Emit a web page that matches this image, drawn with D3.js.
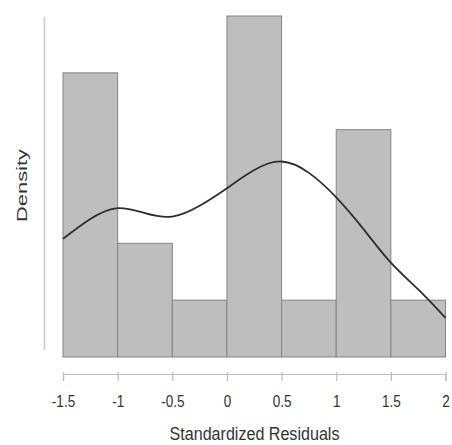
<!DOCTYPE html>
<html>
<head>
<meta charset="utf-8">
<script src="https://cdn.jsdelivr.net/npm/d3@7"></script>
<style>
  html, body { margin: 0; padding: 0; background: #fff; }
  svg { display: block; }
</style>
</head>
<body>
<svg id="chart" width="452" height="445"></svg>
<script>
// Histogram bins (standardized residuals) and their densities
const binEdges = [-1.5, -1, -0.5, 0, 0.5, 1, 1.5, 2];
const densities = [0.5, 0.2, 0.1, 0.6, 0.1, 0.4, 0.1];

// Kernel density curve
const curveX = [-1.5, -1.25, -1.0, -0.75, -0.5, -0.25, 0, 0.25, 0.5, 0.75, 1.0, 1.25, 1.5, 1.75, 2.0];
const curveY = [0.208, 0.243, 0.262, 0.253, 0.247, 0.266, 0.297, 0.329, 0.344, 0.324, 0.281, 0.225, 0.166, 0.119, 0.069];

// Axis ticks
const xTicks = [-1.5, -1, -0.5, 0, 0.5, 1, 1.5, 2];
const xTickLabels = ["-1.5", "-1", "-0.5", "0", "0.5", "1", "1.5", "2"];
const xTitle = "Standardized Residuals";
const yTitle = "Density";

const svg = d3.select("#chart");
const x = d3.scaleLinear().domain([-1.5, 2]).range([63, 445.5]);
const y = d3.scaleLinear().domain([0, 0.6]).range([357, 16]);
const narrow = 0.82;
const font = "'Liberation Sans', Arial, sans-serif";

// y axis line (no ticks)
svg.append("line")
  .attr("x1", 44.5).attr("x2", 44.5)
  .attr("y1", 17).attr("y2", 350)
  .attr("stroke", "#c8c8c8").attr("stroke-width", 1.5);

// bars
const bins = densities.map((d, i) => ({ x0: binEdges[i], x1: binEdges[i + 1], d }));
svg.append("g").selectAll("rect").data(bins).join("rect")
  .attr("x", b => x(b.x0))
  .attr("y", b => y(b.d))
  .attr("width", b => x(b.x1) - x(b.x0))
  .attr("height", b => y(0) - y(b.d))
  .attr("fill", "#bebebe")
  .attr("stroke", "#858585")
  .attr("stroke-width", 1);

// density curve
const pts = curveX.map((v, i) => [v, curveY[i]]);
svg.append("path")
  .datum(pts)
  .attr("fill", "none")
  .attr("stroke", "#2e2e2e")
  .attr("stroke-width", 1.8)
  .attr("d", d3.line().x(p => x(p[0])).y(p => y(p[1])).curve(d3.curveNatural));

// x axis
const xAxis = svg.append("g")
  .attr("transform", "translate(0,374)")
  .call(d3.axisBottom(x).tickValues(xTicks)
    .tickFormat((d, i) => xTickLabels[i])
    .tickSizeOuter(0).tickSize(7).tickPadding(14));
xAxis.select(".domain").attr("stroke", "#bdbdbd").attr("stroke-width", 1.2);
xAxis.selectAll(".tick line").attr("stroke", "#bdbdbd").attr("stroke-width", 1.2).attr("y1", -2);
xAxis.selectAll(".tick text")
  .attr("fill", "#333")
  .attr("font-family", font)
  .attr("font-size", 16.5)
  .attr("transform", `scale(${narrow},1)`);

// x title
svg.append("text")
  .attr("transform", `translate(254.5,440) scale(0.87,1)`)
  .attr("text-anchor", "middle")
  .attr("font-family", font)
  .attr("font-size", 18.5)
  .attr("fill", "#333")
  .text(xTitle);

// y title
svg.append("text")
  .attr("transform", "translate(27,185.5) rotate(-90) scale(1.15,0.78)")
  .attr("text-anchor", "middle")
  .attr("font-family", font)
  .attr("font-size", 19)
  .attr("fill", "#333")
  .text(yTitle);
</script>
</body>
</html>
